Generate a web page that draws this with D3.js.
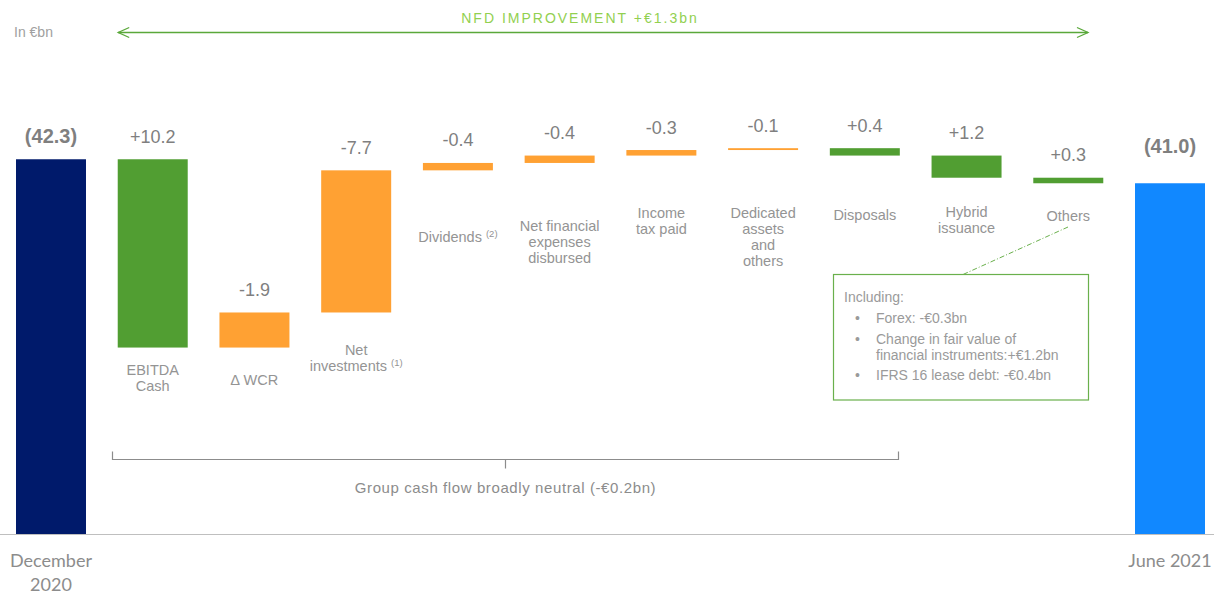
<!DOCTYPE html>
<html>
<head>
<meta charset="utf-8">
<script src="https://cdn.jsdelivr.net/npm/d3@7"></script>
<style>
  html, body { margin: 0; padding: 0; background: #ffffff; }
  svg { display: block; }
</style>
</head>
<body>
<svg id="chart" width="1214" height="596"></svg>
<script>
// Net financial debt bridge, in €bn
const categories = ["December 2020", "EBITDA Cash", "∆ WCR", "Net investments", "Dividends",
  "Net financial expenses disbursed", "Income tax paid", "Dedicated assets and others",
  "Disposals", "Hybrid issuance", "Others", "June 2021"];
const labelLines = [["December", "2020"], ["EBITDA", "Cash"], ["∆ WCR"], ["Net", "investments"],
  ["Dividends"], ["Net financial", "expenses", "disbursed"], ["Income", "tax paid"],
  ["Dedicated", "assets", "and", "others"], ["Disposals"], ["Hybrid", "issuance"], ["Others"], ["June 2021"]];
const footnotes = [null, null, null, "(1)", "(2)", null, null, null, null, null, null, null];
const openingDebt = 42.3;
const closingDebt = 41.0;
// positive = debt reduction
const changes = [10.2, -1.9, -7.7, -0.4, -0.4, -0.3, -0.1, 0.4, 1.2, 0.3];
const improvementText = "NFD IMPROVEMENT +€1.3bn";
const bracketText = "Group cash flow broadly neutral (-€0.2bn)";
const noteTitle = "Including:";
const noteItems = [["Forex: -€0.3bn"], ["Change in fair value of", "financial instruments:+€1.2bn"], ["IFRS 16 lease debt: -€0.4bn"]];

// layout (first-line centre of each category caption)
const captionCentre = [null, 370, 380, 350, 237, 226, 213, 213, 215, 212, 216, null];

const colors = { start: "#001a6b", end: "#1188ff", up: "#519e32", down: "#ffa133" };
const fmt = d3.formatLocale({ decimal: ".", thousands: ",", grouping: [3], currency: ["", ""], minus: "-" });
const signed = fmt.format("+.1f");
const plain = fmt.format(".1f");

// build waterfall rows
const rows = [];
rows.push({ cat: categories[0], from: null, to: openingDebt, kind: "start", label: "(" + plain(openingDebt) + ")" });
let run = openingDebt;
changes.forEach((c, i) => {
  const next = +(run - c).toFixed(2);
  rows.push({ cat: categories[i + 1], from: run, to: next, kind: c >= 0 ? "up" : "down", label: signed(c) });
  run = next;
});
rows.push({ cat: categories[11], from: null, to: closingDebt, kind: "end", label: "(" + plain(closingDebt) + ")" });

const svg = d3.select("#chart");
const axisY = 534;
const x = d3.scaleBand().domain(categories).range([16, 1205]).paddingInner(0.312).paddingOuter(0);
const y = d3.scaleLinear().domain([22, 44]).range([axisY, axisY - 22 * 18.46]);

// axis line
svg.append("line").attr("x1", 0).attr("x2", 1214).attr("y1", axisY + 0.5).attr("y2", axisY + 0.5)
  .attr("stroke", "#bfbfbf").attr("stroke-width", 1.2);

// bars
svg.append("g").selectAll("rect").data(rows).join("rect")
  .attr("x", d => x(d.cat))
  .attr("width", x.bandwidth())
  .attr("y", d => d.from === null ? y(d.to) : y(Math.max(d.from, d.to)))
  .attr("height", d => d.from === null ? y(22) - y(d.to) : Math.abs(y(d.from) - y(d.to)))
  .attr("fill", d => colors[d.kind]);

// value labels
svg.append("g").selectAll("text").data(rows).join("text")
  .attr("x", d => x(d.cat) + x.bandwidth() / 2)
  .attr("y", d => {
    const top = d.from === null ? y(d.to) : y(Math.max(d.from, d.to));
    return top - (d.kind === "end" ? 30 : 16.5);
  })
  .attr("text-anchor", "middle")
  .attr("font-family", "'Liberation Sans', Arial, sans-serif")
  .attr("font-size", d => d.from === null ? 20 : 18)
  .attr("font-weight", d => d.from === null ? "bold" : "normal")
  .attr("fill", "#7f7f7f")
  .text(d => d.label);

// category captions
rows.forEach((d, i) => {
  const cx = x(d.cat) + x.bandwidth() / 2;
  if (d.from === null) {
    const t = svg.append("text").attr("text-anchor", "middle")
      .attr("font-family", "Lato, 'Open Sans', sans-serif").attr("font-size", 18).attr("fill", "#8c8c8c");
    labelLines[i].forEach((line, k) => {
      t.append("tspan").attr("x", cx).attr("y", 567 + k * 24).text(line);
    });
    return;
  }
  const t = svg.append("text").attr("text-anchor", "middle")
    .attr("font-family", "'Liberation Sans', Arial, sans-serif").attr("font-size", 14.5).attr("fill", "#949494");
  const lines = labelLines[i];
  lines.forEach((line, k) => {
    const ts = t.append("tspan").attr("x", cx).attr("y", captionCentre[i] + 5 + k * 16).text(line);
    if (k === lines.length - 1 && footnotes[i]) {
      ts.text(line + " ");
      t.append("tspan").attr("font-size", 9.5).attr("dy", -5).text(footnotes[i]);
    }
  });
});

// unit
svg.append("text").attr("x", 14).attr("y", 37)
  .attr("font-family", "'Liberation Sans', Arial, sans-serif").attr("font-size", 14)
  .attr("fill", "#a0a0a0").text("In €bn");

// improvement arrow
const green = "#5aa83a";
const arrowY = 32.5;
const ax1 = x(categories[1]) + 0.5, ax2 = 1088;
const ag = svg.append("g").attr("stroke", green).attr("stroke-width", 1.3).attr("fill", "none");
ag.append("line").attr("x1", ax1).attr("x2", ax2).attr("y1", arrowY).attr("y2", arrowY);
ag.append("path").attr("d", `M${ax1 + 11},${arrowY - 5}L${ax1},${arrowY}L${ax1 + 11},${arrowY + 5}`);
ag.append("path").attr("d", `M${ax2 - 11},${arrowY - 5}L${ax2},${arrowY}L${ax2 - 11},${arrowY + 5}`);
svg.append("text").attr("x", 580).attr("y", 22.5).attr("text-anchor", "middle")
  .attr("font-family", "'Liberation Sans', Arial, sans-serif").attr("font-size", 14)
  .attr("letter-spacing", 2).attr("fill", "#92d050").text(improvementText);

// bracket under the operating flows
const bx1 = 112.5, bx2 = 898.5, bY = 459.5, bMid = (bx1 + bx2) / 2;
svg.append("path")
  .attr("d", `M${bx1},${bY - 8}L${bx1},${bY}L${bx2},${bY}L${bx2},${bY - 8}M${bMid},${bY}L${bMid},${bY + 9}`)
  .attr("fill", "none").attr("stroke", "#8c8c8c").attr("stroke-width", 1.2);
svg.append("text").attr("x", bMid).attr("y", 493).attr("text-anchor", "middle")
  .attr("font-family", "'Liberation Sans', Arial, sans-serif").attr("font-size", 15)
  .attr("letter-spacing", 0.6).attr("fill", "#8c8c8c").text(bracketText);

// note box for "Others"
svg.append("line").attr("x1", 1068).attr("y1", 227).attr("x2", 963).attr("y2", 274.5)
  .attr("stroke", "#6ab04c").attr("stroke-width", 1).attr("stroke-dasharray", "5,2,1,2");
svg.append("rect").attr("x", 833.5).attr("y", 274.5).attr("width", 255).attr("height", 125.5)
  .attr("fill", "#ffffff").attr("stroke", "#6ab04c").attr("stroke-width", 1.2);
const note = svg.append("text").attr("font-family", "'Liberation Sans', Arial, sans-serif")
  .attr("font-size", 14).attr("fill", "#9a9a9a");
note.append("tspan").attr("x", 844).attr("y", 302).text(noteTitle);
const itemY = [[323], [343.5, 359.5], [380]];
noteItems.forEach((item, i) => {
  note.append("tspan").attr("x", 855).attr("y", itemY[i][0]).text("•");
  item.forEach((line, k) => {
    note.append("tspan").attr("x", 876).attr("y", itemY[i][k]).text(line);
  });
});
</script>
</body>
</html>
